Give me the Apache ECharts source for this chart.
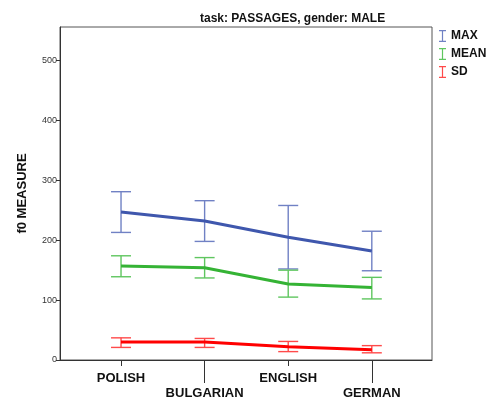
<!DOCTYPE html>
<html>
<head>
<meta charset="utf-8">
<script src="https://cdn.jsdelivr.net/npm/echarts@6/dist/echarts.min.js"></script>
<style>
  html, body { margin: 0; padding: 0; background: #fff; }
  #chart { width: 489px; height: 401px; }
</style>
</head>
<body>
<div id="chart"></div>
<script>
const categories = ['POLISH', 'BULGARIAN', 'ENGLISH', 'GERMAN']
const yTicks = [0, 100, 200, 300, 400, 500]

// value at the line, upper and lower whisker, per category
const maxMid = [247, 232, 205, 182]
const maxHigh = [281, 266, 258, 215]
const maxLow = [213, 198, 152, 149]

const meanMid = [157, 154, 127, 121]
const meanHigh = [174, 171, 150, 138]
const meanLow = [139, 137, 105, 102]

const sdMid = [30, 30, 22, 17]
const sdHigh = [37, 36, 31, 24]
const sdLow = [21, 21, 14, 12]

const FONT = 'Liberation Sans, Arial, sans-serif'

const groups = [
    { name: 'MAX', color: '#3f57ad', bar: '#7081c4', mid: maxMid, high: maxHigh, low: maxLow },
    { name: 'MEAN', color: '#35b335', bar: '#5fc65f', mid: meanMid, high: meanHigh, low: meanLow },
    { name: 'SD', color: '#ff0000', bar: '#ff4a4a', mid: sdMid, high: sdHigh, low: sdLow }
]

const barIcon = 'path://M0,0h7v1.2h-2.9v9.6h2.9v1.2h-7v-1.2h2.9v-9.6h-2.9z'

function errorBars(g) {
    return {
        type: 'custom',
        name: g.name,
        z: 3,
        data: g.mid.map((v, i) => [i, g.low[i], g.high[i]]),
        renderItem(params, api) {
            const lo = api.coord([api.value(0), api.value(1)])
            const hi = api.coord([api.value(0), api.value(2)])
            const half = 10
            const style = { stroke: g.bar, lineWidth: 1.4, fill: null }
            return {
                type: 'group',
                children: [
                    { type: 'line', shape: { x1: lo[0], y1: lo[1], x2: hi[0], y2: hi[1] }, style },
                    { type: 'line', shape: { x1: hi[0] - half, y1: hi[1], x2: hi[0] + half, y2: hi[1] }, style },
                    { type: 'line', shape: { x1: lo[0] - half, y1: lo[1], x2: lo[0] + half, y2: lo[1] }, style }
                ]
            }
        }
    }
}

function lineSeries(g) {
    return {
        type: 'line',
        name: g.name,
        z: 4,
        data: g.mid.map((v, i) => [i, v]),
        symbol: 'none',
        lineStyle: { color: g.color, width: 3 },
        itemStyle: { color: g.color }
    }
}

const chart = echarts.init(document.getElementById('chart'))

chart.setOption({
    animation: false,
    textStyle: { fontFamily: FONT },
    title: {
        text: 'task: PASSAGES, gender: MALE',
        left: 195,
        top: 8,
        textStyle: { fontSize: 12, fontWeight: 'bold', color: '#111', fontFamily: FONT }
    },
    legend: {
        orient: 'vertical',
        left: 434,
        top: 25,
        itemGap: 6,
        itemWidth: 7,
        itemHeight: 12,
        data: groups.map(g => ({ name: g.name, icon: barIcon, itemStyle: { color: g.bar } })),
        textStyle: { fontSize: 12, fontWeight: 'bold', color: '#111', fontFamily: FONT }
    },
    grid: {
        left: 60,
        right: 57,
        top: 27,
        bottom: 39,
        show: true,
        borderColor: '#555',
        borderWidth: 1
    },
    xAxis: [
        {
            type: 'value',
            min: -0.73,
            max: 3.72,
            axisLine: { show: true, onZero: false, lineStyle: { color: '#333', width: 1 } },
            splitLine: { show: false },
            axisTick: {
                show: true,
                customValues: [0, 1, 2, 3],
                length: 6,
                lineStyle: { color: '#333' }
            },
            axisLabel: {
                customValues: [0, 1, 2, 3],
                margin: 11,
                fontSize: 13,
                fontWeight: 'bold',
                color: '#111',
                lineHeight: 15,
                fontFamily: FONT,
                formatter: v => (Math.round(v) % 2 === 1 ? '\n' : '') + categories[Math.round(v)]
            }
        },
        {
            type: 'value',
            min: -0.73,
            max: 3.72,
            position: 'bottom',
            axisLine: { show: false, onZero: false },
            splitLine: { show: false },
            axisLabel: { show: false },
            axisTick: {
                show: true,
                customValues: [1, 3],
                length: 23,
                lineStyle: { color: '#333' }
            }
        }
    ],
    yAxis: {
        type: 'value',
        min: 0,
        max: 556,
        name: 'f0 MEASURE',
        nameLocation: 'middle',
        nameGap: 31,
        nameTextStyle: { fontSize: 13, fontWeight: 'bold', color: '#111', fontFamily: FONT },
        axisLine: { show: true, onZero: false, lineStyle: { color: '#333', width: 1 } },
        splitLine: { show: false },
        axisTick: {
            show: true,
            inside: false,
            customValues: yTicks,
            length: 4,
            lineStyle: { color: '#333' }
        },
        axisLabel: {
            customValues: yTicks,
            margin: 3,
            fontSize: 9,
            color: '#333',
            fontFamily: FONT
        }
    },
    series: groups.map(errorBars).concat(groups.map(lineSeries))
})
</script>
</body>
</html>
